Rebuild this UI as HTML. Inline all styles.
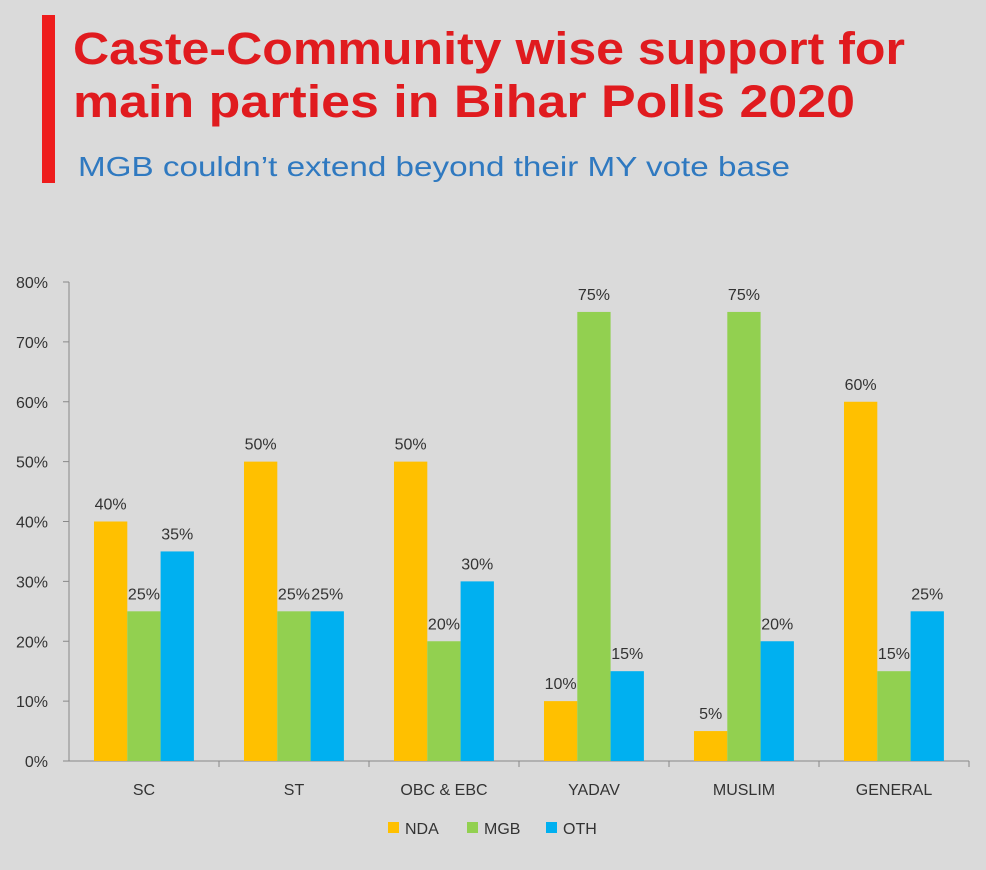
<!DOCTYPE html>
<html><head><meta charset="utf-8"><style>
html,body{margin:0;padding:0;background:#dadada;}
svg{display:block;font-family:"Liberation Sans",sans-serif;}
</style></head><body>
<svg id="chart" width="986" height="870">
<rect x="0" y="0" width="986" height="870" fill="#dadada"/>
<rect x="42" y="15" width="13" height="168" fill="#ee1c1c"/>
<text x="73" y="64" font-size="45" font-weight="bold" fill="#e01b1f" textLength="832" lengthAdjust="spacingAndGlyphs">Caste-Community wise support for</text>
<text x="73" y="117" font-size="45" font-weight="bold" fill="#e01b1f" textLength="782" lengthAdjust="spacingAndGlyphs">main parties in Bihar Polls 2020</text>
<text x="78" y="176" font-size="28" fill="#2f79c0" textLength="712" lengthAdjust="spacingAndGlyphs">MGB couldn’t extend beyond their MY vote base</text>
<g id="plot"></g>
<g id="legend">
<rect x="388" y="822" width="11" height="11" fill="#ffc000"/>
<text x="405" y="834" font-size="16" fill="#333">NDA</text>
<rect x="467" y="822" width="11" height="11" fill="#92d050"/>
<text x="484" y="834" font-size="16" fill="#333">MGB</text>
<rect x="546" y="822" width="11" height="11" fill="#00b0f0"/>
<text x="563" y="834" font-size="16" fill="#333">OTH</text>
</g>
</svg>
<script>
const categories = ["SC","ST","OBC & EBC","YADAV","MUSLIM","GENERAL"];
const ndaValues = [40,50,50,10,5,60];
const mgbValues = [25,25,20,75,75,15];
const othValues = [35,25,30,15,20,25];
const yTicks = [0,10,20,30,40,50,60,70,80];

const NS="http://www.w3.org/2000/svg";
const g=document.getElementById("plot");
const x0=69, y0=761, band=150, yMax=80, yTop=282;
function yScale(v){return y0-(v/yMax)*(y0-yTop);}
function xBand(i){return x0+i*band;}
function mk(tag,attrs){const e=document.createElementNS(NS,tag);for(const k in attrs)e.setAttribute(k,attrs[k]);g.appendChild(e);return e;}

const axis=mk("line",{x1:x0,y1:yTop,x2:x0,y2:y0,stroke:"#888","stroke-width":1});


const xaxis=mk("line",{x1:x0-6,y1:y0,x2:x0+band*categories.length,y2:y0,stroke:"#888","stroke-width":1});



yTicks.forEach(t=>{
  const y=yScale(t);
  const tk=mk("line",{x1:x0-6,y1:y,x2:x0,y2:y,stroke:"#888"});
  
  
  const lb=mk("text",{x:48,y:y+6,"font-size":16,fill:"#333","text-anchor":"end"});
  lb.textContent=t+"%";
  
  
});

const series=[{vals:ndaValues,color:"#ffc000",name:"nda"},{vals:mgbValues,color:"#92d050",name:"mgb"},{vals:othValues,color:"#00b0f0",name:"oth"}];
const bw=33.3;
categories.forEach((c,i)=>{
  const bx=xBand(i);
  const tk=mk("line",{x1:bx+band,y1:y0,x2:bx+band,y2:y0+6,stroke:"#888"});
  
  
  const cl=mk("text",{x:bx+band/2,y:y0+34,"font-size":16,fill:"#333","text-anchor":"middle"});
  cl.textContent=c;
  
  
  series.forEach((s,j)=>{
    const v=s.vals[i];
    const x=bx+25+j*bw;
    const r=mk("rect",{x:x,y:yScale(v),width:bw,height:y0-yScale(v),fill:s.color});
    
    
    const t=mk("text",{x:x+bw/2,y:yScale(v)-12,"font-size":16,fill:"#333","text-anchor":"middle"});
    t.textContent=v+"%";
    
    
  });
});
</script>
</body></html>
